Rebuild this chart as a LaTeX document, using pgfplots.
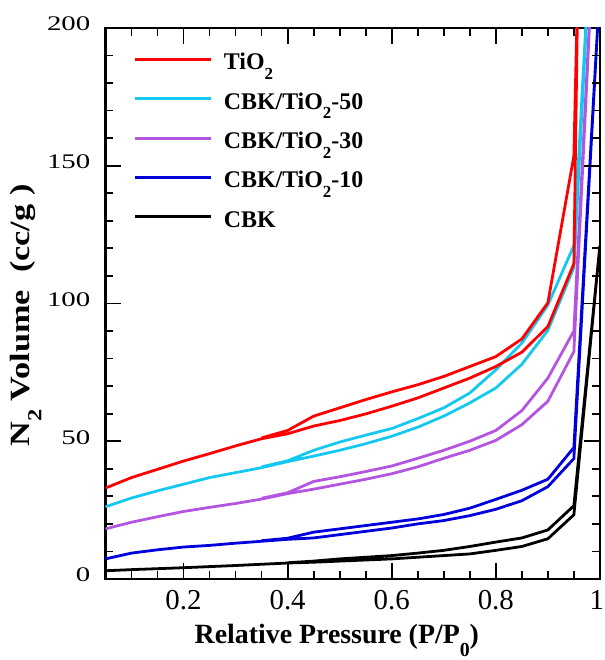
\documentclass[border=0pt]{standalone}
\usepackage{fontspec}
\setmainfont{Liberation Serif}
\usepackage{pgfplots}
\pgfplotsset{compat=1.18}

\definecolor{cRed}{RGB}{255,0,0}
\definecolor{cCyan}{RGB}{20,200,240}
\definecolor{cPurple}{RGB}{180,85,225}
\definecolor{cBlue}{RGB}{0,0,220}

% subscript set well below the baseline: #1 drop, #2 size, #3 text
\newcommand\lowsub[3]{\raisebox{-#1}{\fontsize{#2}{#2}\selectfont #3}}

\begin{document}
\begin{tikzpicture}
\begin{axis}[
  at={(0pt,0pt)}, anchor=south west,
  scale only axis, width=497pt, height=554pt,
  xmin=0.05, xmax=1, ymin=0, ymax=200,
  xtick={0.2,0.4,0.6,0.8,1},
  xticklabels={0.2,0.4,0.6,0.8,\hspace*{-6pt}1},
  ytick={0,50,100,150,200},
  tick align=inside, tick pos=both,
  major tick length=16pt, minor tick length=8pt,
  tick style={draw=black, line width=1.8pt},
  axis line style={line width=2.6pt},
  xticklabel style={font=\fontsize{29}{29}\selectfont, anchor=base, inner sep=0pt, yshift=-31pt,
    /pgf/number format/assume math mode=true},
  yticklabel style={font=\fontsize{29}{29}\selectfont, anchor=base east, inner sep=0pt, xshift=-15pt, yshift=-3pt, yscale=0.72,
    /pgf/number format/assume math mode=true},
  xlabel={Relative Pressure (P/P\lowsub{0.46em}{20}{0})},
  xlabel style={font=\bfseries\fontsize{28}{28}\selectfont, at={(axis description cs:0.468,0)}, anchor=base, yshift=-65pt},
  ylabel={N\lowsub{0.42em}{20}{2} Volume\ \ (cc/g )},
  ylabel style={font=\bfseries\fontsize{28}{28}\selectfont, at={(axis description cs:-0.161,0.478)}, anchor=center, xscale=1.23},
  legend image code/.code={\draw[#1, line width=3pt] (0pt,5.5pt) -- (77pt,5.5pt);},
  legend style={draw=none, fill=none, at={(axis description cs:0.056,0.953)}, anchor=north west,
    font=\bfseries\fontsize{24}{24}\selectfont, inner sep=0pt, row sep=17.5pt, column sep=11pt,
    nodes={inner xsep=0pt, inner ysep=0pt, text height=16pt, text depth=6pt}},
  legend cell align=left,
  reverse legend,
]

% CBK
\addplot[black, line width=2.8pt] coordinates {
 (0.05,3.0) (0.1,3.4) (0.2,4.1) (0.3,4.9) (0.4,5.8) (0.45,6.1) (0.5,6.5) (0.6,7.3)
 (0.65,7.9) (0.7,8.5) (0.75,9.1) (0.8,10.4) (0.85,11.8) (0.9,14.6) (0.95,23.3) (1.0,121)
 (0.95,26.6) (0.9,17.8) (0.85,14.9) (0.8,13.4) (0.75,11.8) (0.7,10.4) (0.65,9.4)
 (0.6,8.5) (0.5,7.3) (0.45,6.5) (0.4,5.9) };
\addlegendentry{CBK}

% CBK/TiO2-10
\addplot[cBlue, line width=2.8pt] coordinates {
 (0.05,7.3) (0.1,9.4) (0.15,10.6) (0.2,11.6) (0.25,12.2) (0.3,13.0) (0.35,13.7) (0.4,14.4)
 (0.45,14.9) (0.5,16.1) (0.55,17.3) (0.6,18.5) (0.65,20.0) (0.7,21.2) (0.75,23.0)
 (0.8,25.3) (0.85,28.4) (0.9,33.5) (0.95,43.7) (1.0,215)
 (0.95,47.7) (0.9,36.2) (0.85,32.2) (0.8,28.9) (0.75,25.7) (0.7,23.4) (0.65,21.8)
 (0.6,20.6) (0.55,19.4) (0.5,18.2) (0.45,17.0) (0.4,14.8) (0.35,13.9) };
\addlegendentry{CBK/TiO\lowsub{0.4em}{17}{2}-10}

% CBK/TiO2-30
\addplot[cPurple, line width=2.8pt] coordinates {
 (0.05,18.2) (0.1,20.6) (0.15,22.6) (0.2,24.5) (0.25,26.0) (0.3,27.4) (0.35,29.0) (0.4,31.0)
 (0.45,32.6) (0.5,34.4) (0.55,36.2) (0.6,38.2) (0.65,40.7) (0.7,43.8) (0.75,46.7)
 (0.8,50.3) (0.85,56.0) (0.9,64.5) (0.95,82.5) (0.99,240)
 (0.95,90.0) (0.9,72.9) (0.85,61.1) (0.8,53.9) (0.75,50.0) (0.7,46.7) (0.65,43.8)
 (0.6,41.0) (0.55,39.0) (0.5,37.1) (0.45,35.4) (0.4,31.3) (0.35,29.3) };
\addlegendentry{CBK/TiO\lowsub{0.4em}{17}{2}-30}

% CBK/TiO2-50
\addplot[cCyan, line width=2.8pt] coordinates {
 (0.05,26.2) (0.1,29.4) (0.15,32.0) (0.2,34.4) (0.25,36.8) (0.3,38.6) (0.35,40.4) (0.4,42.6)
 (0.45,44.6) (0.5,46.7) (0.55,49.1) (0.6,51.8) (0.65,55.1) (0.7,59.1) (0.75,63.9)
 (0.8,69.3) (0.85,77.9) (0.9,90.2) (0.95,113) (0.99,260)
 (0.95,121) (0.9,99.4) (0.85,85.6) (0.8,75.9) (0.75,67.5) (0.7,62.1) (0.65,58.2)
 (0.6,54.6) (0.55,52.2) (0.5,49.7) (0.45,46.7) (0.4,42.9) (0.35,40.7) };
\addlegendentry{CBK/TiO\lowsub{0.4em}{17}{2}-50}

% TiO2
\addplot[cRed, line width=2.8pt] coordinates {
 (0.05,33.0) (0.1,36.8) (0.15,39.8) (0.2,42.8) (0.25,45.5) (0.3,48.3) (0.35,50.9) (0.4,52.7)
 (0.45,55.5) (0.5,57.5) (0.55,59.9) (0.6,62.7) (0.65,65.7) (0.7,69.3) (0.75,72.9)
 (0.8,77.1) (0.85,82.3) (0.9,91.6) (0.95,114.4) (0.958,220)
 (0.95,153.5) (0.9,100.2) (0.85,87.1) (0.8,80.7) (0.75,77.1) (0.7,73.5) (0.65,70.5)
 (0.6,67.9) (0.55,65.1) (0.5,62.1) (0.45,59.1) (0.4,53.9) (0.35,51.2) };
\addlegendentry{TiO\lowsub{0.4em}{17}{2}}

% inward tick marks on all four sides of the frame
\pgfplotsinvokeforeach{0.2,0.4,0.6,0.8}{
  \draw[black, line width=1.8pt] (axis cs:#1,0) -- ++(0pt,16pt);
  \draw[black, line width=1.8pt] (axis cs:#1,200) -- ++(0pt,-16pt);
}
\pgfplotsinvokeforeach{0.1,0.15,0.25,0.3,0.35,0.45,0.5,0.55,0.65,0.7,0.75,0.85,0.9,0.95}{
  \draw[black, line width=1.8pt] (axis cs:#1,0) -- ++(0pt,8pt);
  \draw[black, line width=1.8pt] (axis cs:#1,200) -- ++(0pt,-8pt);
}
\pgfplotsinvokeforeach{50,100,150}{
  \draw[black, line width=1.8pt] (axis cs:0.05,#1) -- ++(16pt,0pt);
  \draw[black, line width=1.8pt] (axis cs:1,#1) -- ++(-16pt,0pt);
}
\pgfplotsinvokeforeach{10,20,30,40,60,70,80,90,110,120,130,140,160,170,180,190}{
  \draw[black, line width=1.8pt] (axis cs:0.05,#1) -- ++(8pt,0pt);
  \draw[black, line width=1.8pt] (axis cs:1,#1) -- ++(-8pt,0pt);
}

\end{axis}
% page extent around the axis box
\path (-106pt,-78pt) rectangle (501pt,582pt);
\end{tikzpicture}
\end{document}
